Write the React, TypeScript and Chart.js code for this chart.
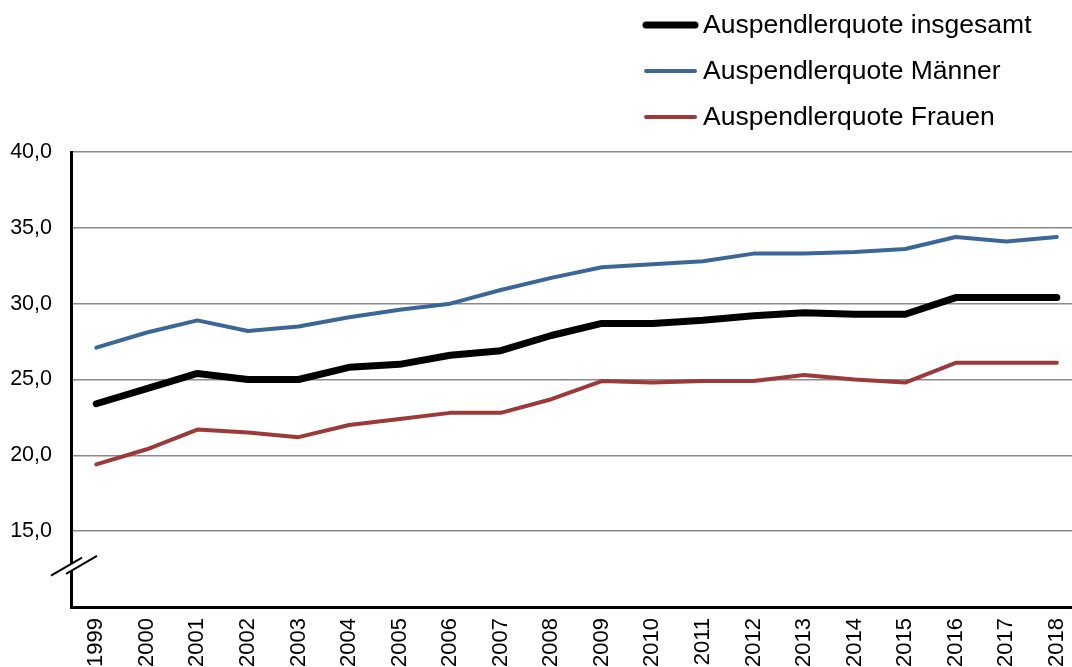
import React, { useEffect, useRef } from 'react';
import { Chart, registerables } from 'chart.js';

Chart.register(...registerables);

const years = [1999, 2000, 2001, 2002, 2003, 2004, 2005, 2006, 2007, 2008, 2009, 2010, 2011, 2012, 2013, 2014, 2015, 2016, 2017, 2018];
const quoteTotal = [23.4, 24.4, 25.4, 25.0, 25.0, 25.8, 26.0, 26.6, 26.9, 27.9, 28.7, 28.7, 28.9, 29.2, 29.4, 29.3, 29.3, 30.4, 30.4, 30.4];
const quoteMen = [27.1, 28.1, 28.9, 28.2, 28.5, 29.1, 29.6, 30.0, 30.9, 31.7, 32.4, 32.6, 32.8, 33.3, 33.3, 33.4, 33.6, 34.4, 34.1, 34.4];
const quoteWomen = [19.4, 20.4, 21.7, 21.5, 21.2, 22.0, 22.4, 22.8, 22.8, 23.7, 24.9, 24.8, 24.9, 24.9, 25.3, 25.0, 24.8, 26.1, 26.1, 26.1];
const seriesLabels = ['Auspendlerquote insgesamt', 'Auspendlerquote Männer', 'Auspendlerquote Frauen'];
const yTickValues = [10, 15, 20, 25, 30, 35, 40];

const FONT = '"Liberation Sans", Arial, sans-serif';

const legendPlugin = {
  id: 'customLegend',
  afterDraw(chart: any) {
    const ctx = chart.ctx;
    const rows = [25, 71, 117];
    ctx.save();
    chart.data.datasets.forEach((ds: any, i: number) => {
      const y = rows[i];
      ctx.beginPath();
      ctx.strokeStyle = ds.borderColor;
      ctx.lineWidth = ds.borderWidth;
      ctx.lineCap = 'round';
      ctx.moveTo(646, y);
      ctx.lineTo(695, y);
      ctx.stroke();
      ctx.fillStyle = '#000';
      ctx.font = `26.5px ${FONT}`;
      ctx.textBaseline = 'middle';
      ctx.textAlign = 'left';
      ctx.fillText(ds.label, 703, y + 1);
    });
    ctx.restore();
  },
};

const breakPlugin = {
  id: 'axisBreak',
  afterDraw(chart: any) {
    const ctx = chart.ctx;
    const cx = chart.chartArea.left;
    const cy = chart.scales.y.getPixelForValue(12.6);
    const s = 0.58;
    const lineA = (x: number) => cy - 3.5 - (x - cx) * s;
    const lineB = (x: number) => cy + 3.5 - (x - cx) * s;
    ctx.save();
    ctx.fillStyle = '#fff';
    ctx.beginPath();
    ctx.moveTo(cx - 6, lineA(cx - 6));
    ctx.lineTo(cx + 6, lineA(cx + 6));
    ctx.lineTo(cx + 6, lineB(cx + 6));
    ctx.lineTo(cx - 6, lineB(cx - 6));
    ctx.closePath();
    ctx.fill();
    ctx.strokeStyle = '#000';
    ctx.lineWidth = 2;
    ctx.beginPath();
    ctx.moveTo(cx - 20, lineA(cx - 20));
    ctx.lineTo(cx + 11, lineA(cx + 11));
    ctx.moveTo(cx - 5, lineB(cx - 5));
    ctx.lineTo(cx + 26, lineB(cx + 26));
    ctx.stroke();
    ctx.restore();
  },
};

export default function App() {
  const ref = useRef<HTMLCanvasElement | null>(null);

  useEffect(() => {
    if (!ref.current) return;
    const mk = (vals: number[]) => vals.map((v, i) => ({ x: years[i], y: v }));
    const chart = new Chart(ref.current, {
      type: 'line',
      data: {
        datasets: [
          { label: seriesLabels[0], data: mk(quoteTotal), borderColor: '#000000', borderWidth: 7, order: 0 },
          { label: seriesLabels[1], data: mk(quoteMen), borderColor: '#3b6698', borderWidth: 4, order: 1 },
          { label: seriesLabels[2], data: mk(quoteWomen), borderColor: '#9b3a38', borderWidth: 4, order: 2 },
        ],
      },
      options: {
        animation: false,
        responsive: true,
        maintainAspectRatio: false,
        layout: { padding: { top: 152, right: 0, left: 0, bottom: 0 } },
        elements: {
          point: { radius: 0, hoverRadius: 0 },
          line: { tension: 0, borderCapStyle: 'round', borderJoinStyle: 'round', fill: false },
        },
        plugins: { legend: { display: false }, tooltip: { enabled: false } },
        scales: {
          x: {
            type: 'linear',
            min: 1998.5,
            max: 2018.3,
            afterBuildTicks: (axis: any) => {
              axis.ticks = years.map((v) => ({ value: v }));
            },
            afterFit: (scale: any) => {
              scale.height = 60;
              scale.paddingLeft = 0;
              scale.paddingRight = 0;
            },
            grid: { display: true, color: 'rgba(0,0,0,0)', drawTicks: false },
            border: { display: true, color: '#000', width: 3 },
            ticks: {
              autoSkip: false,
              minRotation: 90,
              maxRotation: 90,
              padding: 11,
              color: '#000',
              font: { family: FONT, size: 22 },
              callback: (v: any) => String(v),
            },
          },
          y: {
            min: 10,
            max: 40,
            afterBuildTicks: (axis: any) => {
              axis.ticks = yTickValues.map((v) => ({ value: v }));
            },
            afterFit: (scale: any) => {
              scale.width = 71;
              scale.paddingTop = 0;
              scale.paddingBottom = 0;
            },
            grid: { color: '#8a8a8a', lineWidth: 1.5, drawTicks: false },
            border: { display: true, color: '#000', width: 3 },
            ticks: {
              padding: 19,
              color: '#000',
              font: { family: FONT, size: 21.5 },
              callback: (v: any) => (v === 10 ? '' : Number(v).toFixed(1).replace('.', ',')),
            },
          },
        },
      },
      plugins: [legendPlugin, breakPlugin],
    } as any);
    return () => chart.destroy();
  }, []);

  return (
    <div style={{ position: 'absolute', left: 0, top: 0, width: 1072, height: 667, background: '#fff' }}>
      <canvas ref={ref} />
    </div>
  );
}
